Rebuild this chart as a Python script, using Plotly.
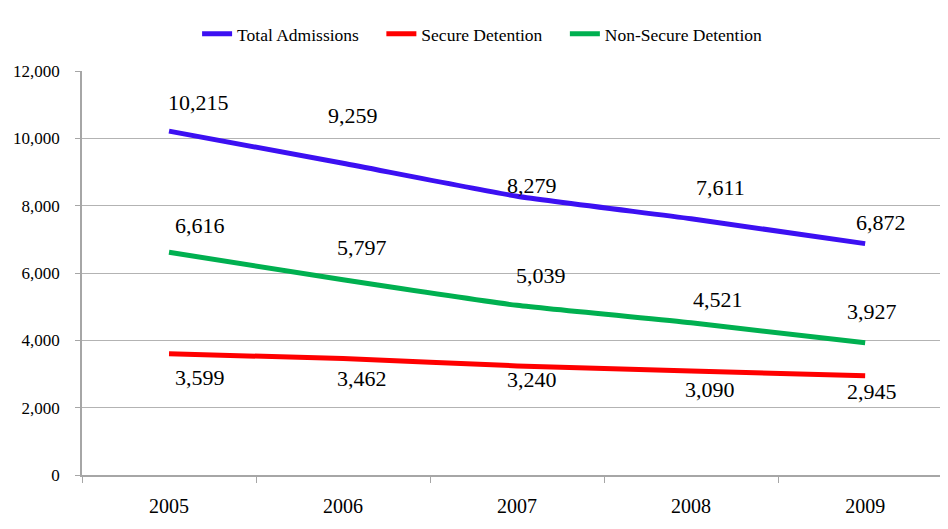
import plotly.graph_objects as go

years = ["2005", "2006", "2007", "2008", "2009"]
total_admissions = [10215, 9259, 8279, 7611, 6872]
secure_detention = [3599, 3462, 3240, 3090, 2945]
non_secure_detention = [6616, 5797, 5039, 4521, 3927]
y_ticks = [0, 2000, 4000, 6000, 8000, 10000, 12000]

series = [
    ("Total Admissions", total_admissions, "#3C10F2"),
    ("Secure Detention", secure_detention, "#FF0000"),
    ("Non-Secure Detention", non_secure_detention, "#00B050"),
]

# label offsets in pixels (x, y-up) per series, per point
label_offsets = {
    "Total Admissions": [(29, 29), (10, 48), (15, 11), (29, 31), (16, 21)],
    "Secure Detention": [(31, -24), (19, -20), (15, -14), (19, -19), (7, -16)],
    "Non-Secure Detention": [(31, 27), (19, 32), (24, 30), (27, 23), (7, 31)],
}

FONT = "Liberation Serif"
PAD = "\u00a0" * 4  # extra spacing between legend entries

fig = go.Figure()
for k, (name, vals, color) in enumerate(series):
    fig.add_trace(go.Scatter(
        x=years, y=vals, name=name + (PAD if k < len(series) - 1 else ""),
        mode="lines",
        line=dict(color=color, width=5, shape="spline", smoothing=0.5),
        hovertemplate=name + ": %{y:,}<extra></extra>",
    ))

for name, vals, color in series:
    for i, (v, (dx, dy)) in enumerate(zip(vals, label_offsets[name])):
        fig.add_annotation(
            x=i, y=v, xref="x", yref="y", text=f"{v:,}", showarrow=False,
            xshift=dx, yshift=dy,
            font=dict(family=FONT, size=22, color="#000000"),
        )

fig.update_layout(
    width=940, height=521,
    margin=dict(l=74, r=0, t=63, b=54, autoexpand=False),
    paper_bgcolor="white", plot_bgcolor="white",
    font=dict(family=FONT, size=17, color="#000000"),
    showlegend=True,
    legend=dict(
        orientation="h", x=0.462, xanchor="center", y=1.092, yanchor="middle",
        font=dict(family=FONT, size=17.5, color="#000000"),
        itemwidth=30, tracegroupgap=0,
    ),
    xaxis=dict(
        type="category", range=[-0.5, 4.476],
        tickson="boundaries", ticks="outside", ticklen=6, tickcolor="#A6A6A6",
        showline=True, linecolor="#A6A6A6", linewidth=1.5,
        showgrid=False, zeroline=False,
        ticklabelstandoff=12,
        tickfont=dict(family=FONT, size=20),
    ),
    yaxis=dict(
        range=[0, 12000], tickvals=y_ticks, ticktext=[f"{t:,}" for t in y_ticks],
        ticks="outside", ticklen=5, tickcolor="#A6A6A6",
        showline=True, linecolor="#A6A6A6", linewidth=1.5,
        showgrid=True, gridcolor="#B3B3B3", gridwidth=1.2,
        zeroline=False, ticklabelstandoff=12,
        tickfont=dict(family=FONT, size=17),
    ),
)

fig.write_html("out.html")
